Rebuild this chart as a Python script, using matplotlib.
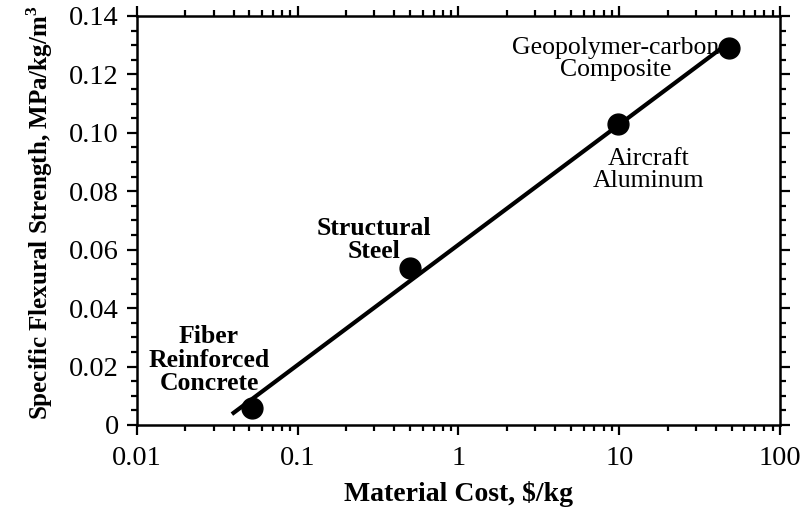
import numpy as np
import matplotlib
matplotlib.use("Agg")
import matplotlib.pyplot as plt
from matplotlib.ticker import LogLocator, NullFormatter, FixedLocator, MultipleLocator

# Material data: cost ($/kg) vs specific flexural strength (MPa/kg/m^3)
materials = ["Fiber\nReinforced\nConcrete", "Structural\nSteel",
             "Aircraft\nAluminum", "Geopolymer-carbon\nComposite"]
cost = [0.052, 0.50, 9.8, 48.0]
strength = [0.0058, 0.0537, 0.103, 0.129]
label_bold = [True, True, False, False]
trend_start = 0.039

x_ticks = [0.01, 0.1, 1, 10, 100]
x_ticklabels = ["0.01", "0.1", "1", "10", "100"]
y_ticks = [0, 0.02, 0.04, 0.06, 0.08, 0.10, 0.12, 0.14]
y_ticklabels = ["0", "0.02", "0.04", "0.06", "0.08", "0.10", "0.12", "0.14"]

plt.rcParams["font.family"] = ["Liberation Serif", "DejaVu Serif"]
plt.rcParams["mathtext.fontset"] = "custom"
plt.rcParams["mathtext.rm"] = "Liberation Serif"
plt.rcParams["mathtext.bf"] = "Liberation Serif:bold"

fig = plt.figure(figsize=(8.05, 5.15), dpi=100)
ax = fig.add_axes([0.170, 0.1748, 0.799, 0.7942])

# least-squares trend of strength against log(cost)
slope, icpt = np.polyfit(np.log10(cost), strength, 1)
tx = np.array([trend_start, cost[-1]])
ax.plot(tx, icpt + slope * np.log10(tx), color="black", lw=3.0,
        solid_capstyle="butt", zorder=2)
ax.plot(cost, strength, "o", color="black", ms=15, zorder=3)

offsets = [(-43, 48), (-36, 28), (31, -46), (-113, -11)]
for name, xv, yv, bold, off in zip(materials, cost, strength, label_bold, offsets):
    ax.annotate(name, (xv, yv), xytext=off, textcoords="offset pixels",
                ha="center", va="center", multialignment="center",
                fontsize=18.5, fontweight="bold" if bold else "normal",
                linespacing=1.03, zorder=4)

ax.set_xscale("log")
ax.set_xlim(0.01, 100)
ax.set_ylim(0, 0.14)
ax.xaxis.set_major_locator(FixedLocator(x_ticks))
ax.set_xticklabels(x_ticklabels)
ax.xaxis.set_minor_locator(LogLocator(base=10, subs=np.arange(2, 10)))
ax.xaxis.set_minor_formatter(NullFormatter())
ax.yaxis.set_major_locator(FixedLocator(y_ticks))
ax.set_yticklabels(y_ticklabels)
ax.yaxis.set_minor_locator(MultipleLocator(0.005))

ax.tick_params(which="both", direction="out", width=1.6, top=True, right=True,
               labelsize=20.5, colors="black")
ax.tick_params(which="major", length=7)
ax.tick_params(which="minor", length=4.5)
ax.tick_params(axis="x", which="major", pad=8)
ax.tick_params(axis="y", which="major", pad=6)
for s in ax.spines.values():
    s.set_linewidth(1.8)

ax.set_xlabel("Material Cost, $/kg", fontsize=20, fontweight="bold", labelpad=7)
ax.set_ylabel("Specific Flexural Strength, MPa/kg/m$^\\mathbf{3}$", fontsize=18,
              fontweight="bold", labelpad=14)
ax.yaxis.set_label_coords(-0.128, 0.518)

fig.savefig("out.png", dpi=100)
